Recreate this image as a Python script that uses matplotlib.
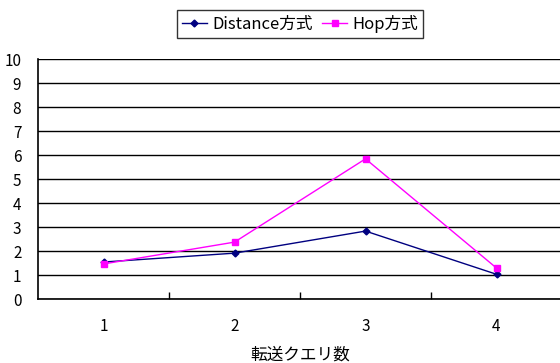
import matplotlib.pyplot as plt
from matplotlib.ticker import FixedLocator

plt.rcParams['font.family'] = ['Noto Sans CJK JP', 'DejaVu Sans']

# データ
categories = ['1', '2', '3', '4']
distance = [1.54, 1.91, 2.83, 1.03]
hop = [1.46, 2.37, 5.84, 1.29]
yticks = list(range(0, 11))

fig = plt.figure(figsize=(5.6, 3.63), dpi=100)
# 右端は画像の外まで伸ばす
ax = fig.add_axes([38 / 560, (363 - 299) / 363, 524 / 560, 240 / 363])

x = list(range(1, len(categories) + 1))
ax.plot(x, distance, color='#000080', lw=1, marker='D', ms=3.5,
        label='Distance方式')
ax.plot(x, hop, color='#FF00FF', lw=1, marker='s', ms=5,
        label='Hop方式')

ax.set_xlim(0.5, 4.5)
ax.set_ylim(0, 10)
ax.set_yticks(yticks)
ax.yaxis.grid(True, color='black', lw=1)
ax.set_axisbelow(True)
ax.tick_params(axis='y', length=0, labelsize=11, pad=12)

ax.set_xticks(x)
ax.set_xticklabels(categories)
ax.xaxis.set_minor_locator(FixedLocator([1.5, 2.5, 3.5]))
ax.tick_params(axis='x', which='major', length=0, labelsize=11, pad=14)
ax.tick_params(axis='x', which='minor', direction='in', length=5,
               width=1, color='black')
ax.set_xlabel('転送クエリ数', fontsize=12, labelpad=8)

for s in ['top', 'right']:
    ax.spines[s].set_visible(False)
for s in ['left', 'bottom']:
    ax.spines[s].set_color('black')
    ax.spines[s].set_linewidth(1.2)

leg = fig.legend(loc='center', bbox_to_anchor=(300 / 560, 1 - 24 / 363),
                 ncol=2, fontsize=12, frameon=True, fancybox=False,
                 edgecolor='black', handlelength=1.5, handletextpad=0.3,
                 columnspacing=0.6, borderpad=0.3, borderaxespad=0)
leg.get_frame().set_linewidth(1)

fig.savefig('out.png', dpi=100)
